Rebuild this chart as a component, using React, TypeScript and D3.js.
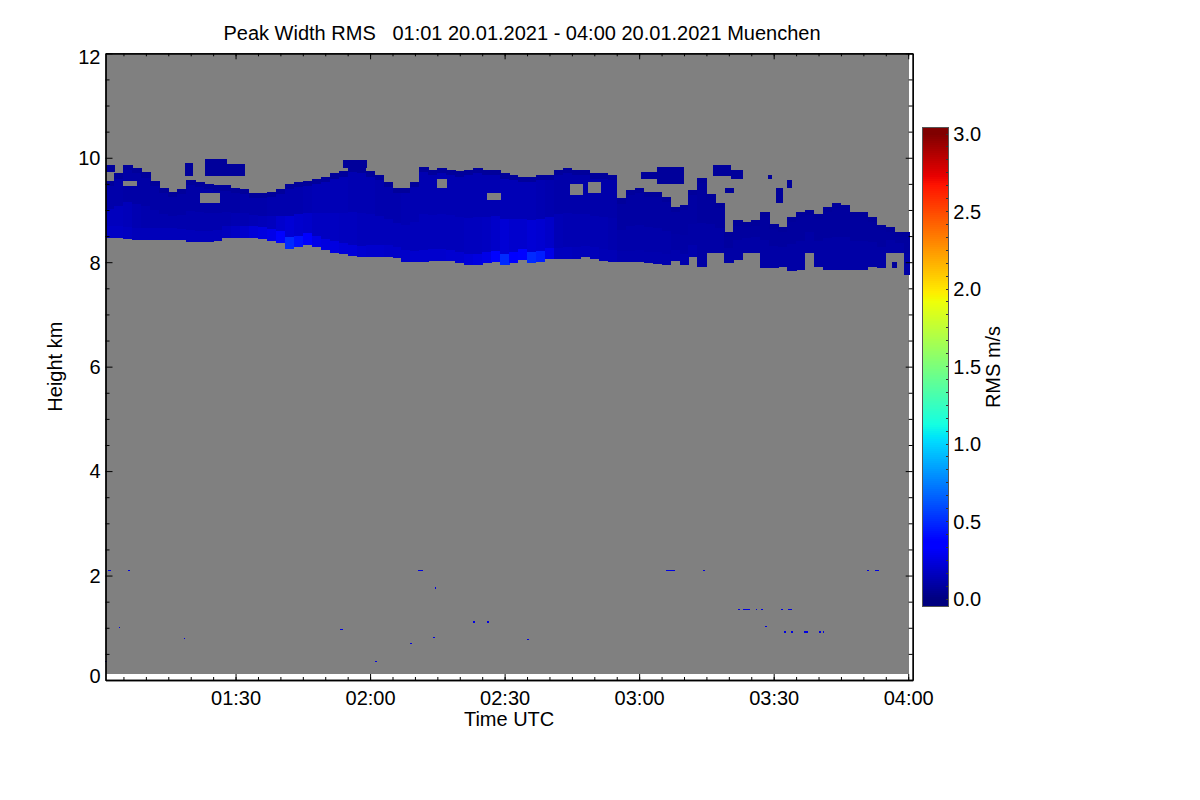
import React, { useRef, useEffect } from "react";
import * as d3 from "d3";

// ── Data ──────────────────────────────────────────────────────────────────────
// time is minutes after 00:00 UTC on 20.01.2021, heights in km, rms in m/s

const TIME_START = 61; // 01:01
const TIME_END = 241; // 04:01 (axis end)
const DATA_END = 240.2; // last profile
const DATA_BOTTOM = 0.12; // lowest range gate
const COL_STEP = 2; // minutes per profile column below

const cloudTop = [
  9.55, 9.7, 9.86, 9.8, 9.72, 9.55, 9.42, 9.35, 9.4, 9.57,
  9.54, 9.5, 9.47, 9.47, 9.43, 9.4, 9.33, 9.33, 9.35, 9.4,
  9.5, 9.54, 9.55, 9.6, 9.64, 9.7, 9.74, 9.82, 9.8, 9.74,
  9.67, 9.54, 9.43, 9.42, 9.54, 9.82, 9.77, 9.8, 9.77, 9.74,
  9.77, 9.8, 9.77, 9.77, 9.7, 9.67, 9.63, 9.64, 9.67, 9.67,
  9.77, 9.8, 9.77, 9.77, 9.7, 9.7, 9.67, 9.22, 9.38, 9.42,
  9.35, 9.35, 9.25, 9.06, 9.1, 9.38, 9.62, 9.3, 9.13, 8.58,
  8.8, 8.77, 8.8, 8.96, 8.74, 8.67, 8.87, 8.96, 9.0, 8.93,
  9.06, 9.13, 9.1, 8.96, 8.96, 8.87, 8.71, 8.68, 8.58, 8.58,
];

const cloudBase = [
  8.47, 8.47, 8.45, 8.43, 8.43, 8.43, 8.43, 8.43, 8.42, 8.39,
  8.38, 8.38, 8.4, 8.47, 8.47, 8.47, 8.47, 8.45, 8.41, 8.37,
  8.26, 8.29, 8.33, 8.29, 8.23, 8.18, 8.15, 8.11, 8.09, 8.1,
  8.1, 8.1, 8.08, 8.01, 8.0, 8.01, 8.03, 8.03, 8.02, 7.98,
  7.94, 7.94, 7.98, 8.0, 7.94, 7.98, 8.04, 7.98, 8.0, 8.06,
  8.06, 8.07, 8.07, 8.09, 8.07, 8.03, 8.01, 8.0, 8.0, 8.01,
  7.98, 7.97, 7.94, 8.02, 7.94, 8.1, 7.9, 8.17, 8.17, 7.98,
  8.05, 8.17, 8.17, 7.88, 7.88, 7.9, 7.84, 7.86, 8.17, 7.9,
  7.85, 7.85, 7.85, 7.85, 7.86, 7.9, 7.88, 8.17, 8.17, 7.75,
];

// rms in the upper half, lower half and lowest ~200 m of each column
const rmsUpper = [
  0.11, 0.11, 0.1, 0.1, 0.1, 0.1, 0.1, 0.1, 0.1, 0.1,
  0.1, 0.1, 0.1, 0.1, 0.1, 0.11, 0.11, 0.11, 0.12, 0.12,
  0.12, 0.12, 0.13, 0.14, 0.14, 0.14, 0.14, 0.13, 0.13, 0.13,
  0.12, 0.12, 0.12, 0.13, 0.13, 0.13, 0.13, 0.13, 0.13, 0.13,
  0.13, 0.13, 0.13, 0.13, 0.14, 0.14, 0.14, 0.14, 0.13, 0.12,
  0.11, 0.11, 0.11, 0.11, 0.11, 0.11, 0.11, 0.09, 0.09, 0.09,
  0.09, 0.09, 0.09, 0.09, 0.09, 0.09, 0.08, 0.08, 0.08, 0.08,
  0.08, 0.08, 0.08, 0.08, 0.08, 0.08, 0.08, 0.08, 0.08, 0.08,
  0.08, 0.08, 0.08, 0.08, 0.08, 0.08, 0.08, 0.08, 0.08, 0.08,
];

const rmsLower = [
  0.16, 0.16, 0.15, 0.13, 0.12, 0.12, 0.12, 0.12, 0.12, 0.12,
  0.12, 0.12, 0.12, 0.12, 0.13, 0.13, 0.14, 0.15, 0.16, 0.2,
  0.22, 0.2, 0.19, 0.17, 0.17, 0.17, 0.16, 0.16, 0.15, 0.15,
  0.15, 0.15, 0.15, 0.15, 0.15, 0.15, 0.15, 0.15, 0.15, 0.15,
  0.16, 0.16, 0.17, 0.19, 0.22, 0.2, 0.2, 0.22, 0.21, 0.19,
  0.14, 0.13, 0.13, 0.13, 0.13, 0.13, 0.12, 0.11, 0.11, 0.11,
  0.11, 0.11, 0.11, 0.1, 0.1, 0.1, 0.1, 0.1, 0.1, 0.1,
  0.1, 0.1, 0.1, 0.1, 0.1, 0.1, 0.1, 0.1, 0.1, 0.1,
  0.1, 0.1, 0.1, 0.1, 0.1, 0.1, 0.1, 0.1, 0.1, 0.1,
];

const rmsBase = [
  0.18, 0.18, 0.17, 0.15, 0.15, 0.15, 0.15, 0.15, 0.15, 0.15,
  0.15, 0.15, 0.15, 0.16, 0.18, 0.2, 0.23, 0.25, 0.27, 0.38,
  0.5, 0.42, 0.34, 0.27, 0.25, 0.25, 0.23, 0.23, 0.21, 0.2,
  0.2, 0.19, 0.19, 0.19, 0.2, 0.2, 0.2, 0.2, 0.21, 0.21,
  0.23, 0.25, 0.27, 0.38, 0.5, 0.36, 0.38, 0.5, 0.46, 0.27,
  0.16, 0.16, 0.15, 0.15, 0.15, 0.14, 0.14, 0.12, 0.12, 0.12,
  0.12, 0.12, 0.12, 0.12, 0.12, 0.12, 0.1, 0.1, 0.1, 0.1,
  0.1, 0.1, 0.1, 0.1, 0.1, 0.1, 0.1, 0.1, 0.1, 0.1,
  0.1, 0.1, 0.1, 0.1, 0.1, 0.1, 0.1, 0.1, 0.1, 0.1,
];

// detached cloud pieces: [t0, t1, h0, h1]
const cloudPatches: [number, number, number, number][] = [
  [61, 63.1, 9.72, 9.86],
  [78.7, 80.5, 9.66, 9.9],
  [83.2, 88, 9.66, 9.97],
  [88, 92, 9.66, 9.88],
  [114.0, 119.3, 9.8, 9.95],
  [180.4, 184, 9.6, 9.72],
  [184, 190, 9.5, 9.82],
  [196.5, 200.5, 9.66, 9.86],
  [200.5, 203, 9.6, 9.76],
  [199.2, 201, 9.32, 9.42],
  [208.8, 209.5, 9.6, 9.67],
  [210.5, 212, 9.13, 9.43],
  [213, 214, 9.43, 9.57],
  [236.4, 237.5, 7.88, 8.0],
];

// gaps inside the cloud: [t0, t1, h0, h1]
const cloudHoles: [number, number, number, number][] = [
  [65, 68, 9.45, 9.56],
  [82.1, 86.5, 9.13, 9.32],
  [134.9, 137.1, 9.42, 9.6],
  [146, 149, 9.2, 9.32],
  [164.6, 167.3, 9.28, 9.5],
  [168.6, 171.3, 9.32, 9.53],
];

// single noisy echoes in the boundary layer: [t0, t1, h]
const specks: [number, number, number][] = [
  [60.9, 61.2, 0.36], [61.6, 62.2, 2.1], [66.0, 66.3, 2.1], [63.9, 64.2, 1.01],
  [78.4, 78.7, 0.8], [113.2, 113.9, 0.96], [121.1, 121.4, 0.36], [128.9, 129.2, 0.7],
  [130.7, 131.6, 2.1], [134.4, 134.7, 1.76], [134.1, 134.4, 0.82], [142.9, 143.2, 1.11],
  [146.1, 146.4, 1.11], [155.0, 155.3, 0.77], [186.0, 187.8, 2.09], [194.3, 194.6, 2.09],
  [202.1, 202.4, 1.35], [203.2, 204.6, 1.35], [206.0, 206.3, 1.35], [207.2, 207.5, 1.35],
  [211.6, 211.9, 1.35], [213.3, 213.9, 1.35], [208.1, 208.4, 1.02], [212.3, 212.6, 0.92],
  [213.9, 214.3, 0.92], [216.8, 217.6, 0.92], [220.2, 220.5, 0.92], [220.9, 221.2, 0.92],
  [230.8, 231.2, 2.09], [232.6, 233.5, 2.09],
];

const heightTicks = [0, 2, 4, 6, 8, 10, 12];
const rmsTicks = [0, 0.5, 1, 1.5, 2, 2.5, 3];

// ── Style ─────────────────────────────────────────────────────────────────────

const FONT = "'Liberation Sans', Arial, Helvetica, sans-serif";
const FONT_SIZE = 20;
const NO_DATA = "#808080";
const EDGE_RMS = 0.07;
const PATCH_RMS = 0.07;
const SPECK_RMS = 0.25;

// jet colour table over 0..3 m/s
const JET_POS = [0, 0.11, 0.125, 0.34, 0.35, 0.375, 0.64, 0.65, 0.66, 0.89, 0.91, 1];
const JET_COL = [
  "#000080", "#0000ff", "#0000ff", "#00dbff", "#00e6f7", "#14ffe2",
  "#efff08", "#f7f500", "#ffec00", "#ff1300", "#e80000", "#800000",
];

const minute = (m: number) => new Date(Date.UTC(2021, 0, 20, 0, 0) + m * 60000);

const plot = { left: 105.5, right: 912.7, top: 53.3, bottom: 680 };
const bar = { left: 922.7, width: 25.6, top: 127, bottom: 606 };

export default function App() {
  const svgRef = useRef<SVGSVGElement>(null);

  useEffect(() => {
    if (!svgRef.current) return;
    const svg = d3.select(svgRef.current);
    svg.selectAll("*").remove();

    const x = d3.scaleUtc().domain([minute(TIME_START), minute(TIME_END)]).range([plot.left, plot.right]);
    const y = d3.scaleLinear().domain([0, 12]).range([plot.bottom, plot.top]);
    const color = d3
      .scaleLinear<string>()
      .domain(JET_POS.map((p) => p * 3))
      .range(JET_COL)
      .interpolate(d3.interpolateRgb)
      .clamp(true);

    svg.append("rect").attr("width", 1200).attr("height", 800).attr("fill", "#fff");

    const g = svg.append("g").attr("shape-rendering", "crispEdges");

    // no-data background
    g.append("rect")
      .attr("x", x(minute(TIME_START)))
      .attr("y", y(12))
      .attr("width", x(minute(DATA_END)) - x(minute(TIME_START)))
      .attr("height", y(DATA_BOTTOM) - y(12))
      .attr("fill", NO_DATA);

    const cell = (t0: number, t1: number, h0: number, h1: number, fill: string) => {
      const x0 = x(minute(t0));
      const x1 = x(minute(t1));
      g.append("rect")
        .attr("x", x0)
        .attr("y", y(h1))
        .attr("width", Math.max(1, x1 - x0 + 0.4))
        .attr("height", Math.max(1, y(h0) - y(h1)))
        .attr("fill", fill);
    };

    // cloud columns
    cloudTop.forEach((top, i) => {
      const t0 = TIME_START + i * COL_STEP;
      const t1 = Math.min(t0 + COL_STEP, DATA_END);
      const base = cloudBase[i];
      const mid = base + (top - base) * 0.5;
      cell(t0, t1, base, base + 0.22, color(rmsBase[i]));
      cell(t0, t1, base + 0.22, mid, color(rmsLower[i]));
      cell(t0, t1, mid, top - 0.1, color(rmsUpper[i]));
      cell(t0, t1, top - 0.1, top, color(EDGE_RMS));
    });

    cloudPatches.forEach(([t0, t1, h0, h1]) => cell(t0, t1, h0, h1, color(PATCH_RMS)));
    cloudHoles.forEach(([t0, t1, h0, h1]) => cell(t0, t1, h0, h1, NO_DATA));
    specks.forEach(([t0, t1, h]) => cell(t0, t1, h - 0.012, h + 0.012, color(SPECK_RMS)));

    // ── Axes (IDL style box, ticks pointing inward) ──
    const styleAxis = (sel: d3.Selection<SVGGElement, unknown, null, undefined>) => {
      sel.select(".domain").attr("stroke", "#000").attr("stroke-width", 1.3);
      sel.selectAll(".tick line").attr("stroke", "#000").attr("stroke-width", 1);
      sel.selectAll(".tick text").attr("fill", "#000").attr("font-size", FONT_SIZE).attr("font-family", FONT);
    };
    const noLabel = () => "";

    const minorY = d3.range(0, 12.01, 0.5).filter((v) => v % 2 !== 0);

    // bottom
    svg.append("g").attr("transform", `translate(0,${plot.bottom})`)
      .call(d3.axisBottom(x).ticks(d3.utcMinute.every(5)).tickFormat(noLabel).tickSize(-3).tickSizeOuter(0))
      .call(styleAxis);
    svg.append("g").attr("transform", `translate(0,${plot.bottom})`)
      .call(d3.axisBottom(x).ticks(d3.utcMinute.every(30)).tickFormat(d3.utcFormat("%H:%M") as any)
        .tickSize(-6).tickSizeOuter(0).tickPadding(11))
      .call(styleAxis);
    // top
    svg.append("g").attr("transform", `translate(0,${plot.top})`)
      .call(d3.axisTop(x).ticks(d3.utcMinute.every(5)).tickFormat(noLabel).tickSize(-3).tickSizeOuter(0))
      .call(styleAxis);
    svg.append("g").attr("transform", `translate(0,${plot.top})`)
      .call(d3.axisTop(x).ticks(d3.utcMinute.every(30)).tickFormat(noLabel).tickSize(-6).tickSizeOuter(0))
      .call(styleAxis);
    // left
    svg.append("g").attr("transform", `translate(${plot.left},0)`)
      .call(d3.axisLeft(y).tickValues(minorY).tickFormat(noLabel).tickSize(-4).tickSizeOuter(0))
      .call(styleAxis);
    svg.append("g").attr("transform", `translate(${plot.left},0)`)
      .call(d3.axisLeft(y).tickValues(heightTicks).tickFormat(d3.format("d") as any)
        .tickSize(-7).tickSizeOuter(0).tickPadding(5))
      .call(styleAxis)
      .call((a) => {
        // end labels sit a little inside the box
        a.selectAll<SVGTextElement, number>(".tick text")
          .attr("dy", (d) => (d === 12 ? "0.52em" : d === 0 ? "0.1em" : "0.34em"));
      });
    // right
    svg.append("g").attr("transform", `translate(${plot.right},0)`)
      .call(d3.axisRight(y).tickValues(minorY).tickFormat(noLabel).tickSize(-4).tickSizeOuter(0))
      .call(styleAxis);
    svg.append("g").attr("transform", `translate(${plot.right},0)`)
      .call(d3.axisRight(y).tickValues(heightTicks).tickFormat(noLabel).tickSize(-7).tickSizeOuter(0))
      .call(styleAxis);

    // ── Colour bar ──
    const cb = d3.scaleLinear().domain([0, 3]).range([599, 134]);
    const cbg = svg.append("g").attr("shape-rendering", "crispEdges");
    const steps = d3.range(bar.top, bar.bottom, 2);
    cbg.selectAll("rect.step")
      .data(steps)
      .join("rect")
      .attr("class", "step")
      .attr("x", bar.left)
      .attr("y", (d) => d)
      .attr("width", bar.width)
      .attr("height", 2.4)
      .attr("fill", (d) => color(cb.invert(d + 1)));
    cbg.append("rect")
      .attr("x", bar.left)
      .attr("y", bar.top)
      .attr("width", bar.width)
      .attr("height", bar.bottom - bar.top)
      .attr("fill", "none")
      .attr("stroke", "#555")
      .attr("stroke-width", 1);
    cbg.selectAll("line.cbtick")
      .data(d3.range(0, 37).map((k) => k / 12))
      .join("line")
      .attr("class", "cbtick")
      .attr("x1", bar.left + bar.width - 2)
      .attr("x2", bar.left + bar.width)
      .attr("y1", (d) => cb(d))
      .attr("y2", (d) => cb(d))
      .attr("stroke", "#333");
    svg.append("g")
      .selectAll("text")
      .data(rmsTicks)
      .join("text")
      .attr("x", bar.left + bar.width + 5)
      .attr("y", (d) => cb(d))
      .attr("dy", "0.36em")
      .attr("font-size", FONT_SIZE)
      .attr("font-family", FONT)
      .text((d) => d3.format(".1f")(d));

    // ── Titles ──
    svg.append("text")
      .attr("x", 522)
      .attr("y", 40)
      .attr("text-anchor", "middle")
      .attr("font-size", FONT_SIZE)
      .attr("font-family", FONT)
      .style("white-space", "pre")
      .text("Peak Width RMS   01:01 20.01.2021 - 04:00 20.01.2021 Muenchen");
    svg.append("text")
      .attr("x", (plot.left + plot.right) / 2)
      .attr("y", 726)
      .attr("text-anchor", "middle")
      .attr("font-size", FONT_SIZE)
      .attr("font-family", FONT)
      .text("Time UTC");
    svg.append("text")
      .attr("transform", `translate(62,${(plot.top + plot.bottom) / 2}) rotate(-90)`)
      .attr("text-anchor", "middle")
      .attr("font-size", FONT_SIZE)
      .attr("font-family", FONT)
      .text("Height km");
    svg.append("text")
      .attr("transform", `translate(1000,367) rotate(-90)`)
      .attr("text-anchor", "middle")
      .attr("font-size", FONT_SIZE)
      .attr("font-family", FONT)
      .text("RMS m/s");
  }, []);

  return (
    <div style={{ position: "absolute", left: 0, top: 0 }}>
      <svg ref={svgRef} width={1200} height={800} style={{ display: "block" }} />
    </div>
  );
}
